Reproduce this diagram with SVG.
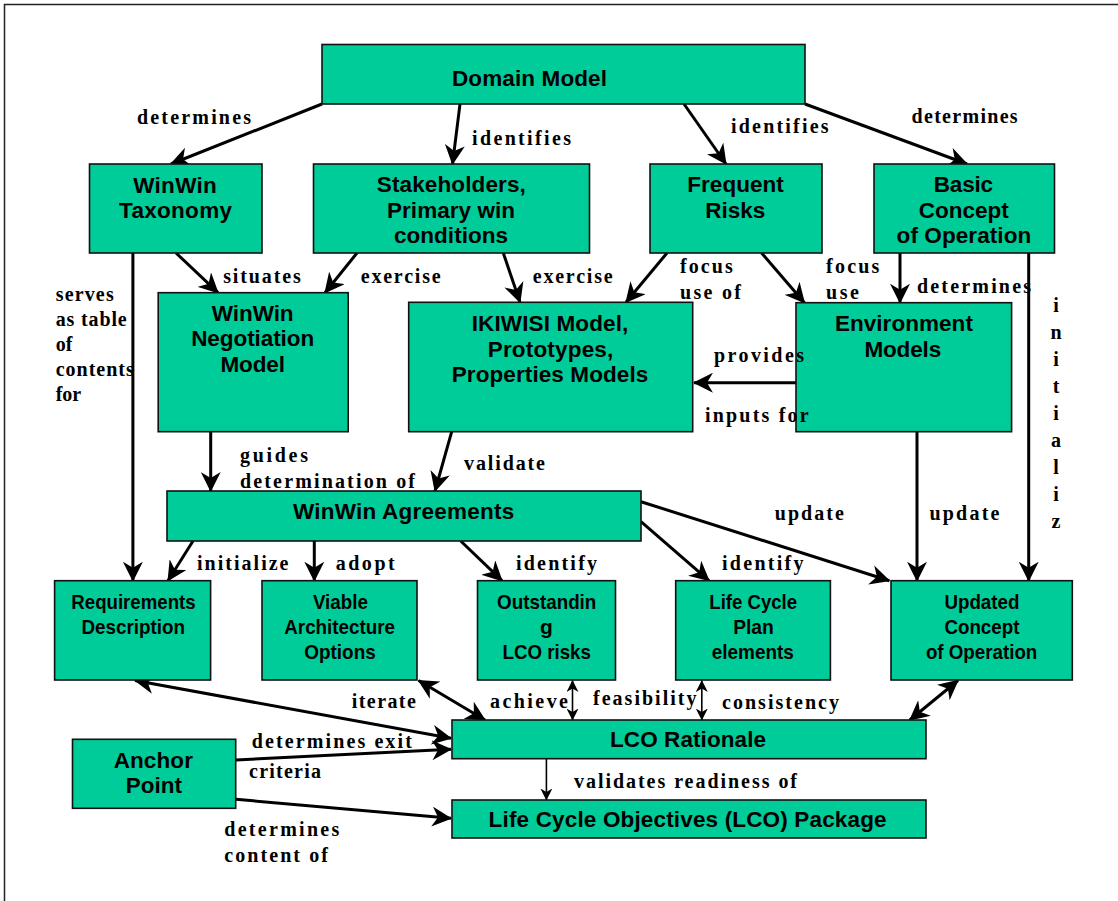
<svg xmlns="http://www.w3.org/2000/svg" width="1118" height="901" viewBox="0 0 1118 901">
<defs>
<style>
.box{fill:#00CC99;stroke:#111;stroke-width:1.6}
.nt{font-family:"Liberation Sans",Arial,sans-serif;font-weight:bold;font-size:22.5px;text-anchor:middle;fill:#000}
.nb{font-family:"Liberation Sans",Arial,sans-serif;font-weight:bold;font-size:21px;text-anchor:middle;fill:#000}
.lbl{font-family:"Liberation Serif","Times New Roman",serif;font-weight:bold;font-size:20px;fill:#000}
.vl{font-family:"Liberation Serif","Times New Roman",serif;font-weight:bold;font-size:20px;fill:#000;text-anchor:middle}
.c{fill:none;stroke:#000;stroke-width:3}
.ct{fill:none;stroke:#000;stroke-width:1.6}
</style>
<marker id="ah" viewBox="0 0 20 20" refX="19" refY="10" markerWidth="20" markerHeight="20" markerUnits="userSpaceOnUse" orient="auto-start-reverse"><path d="M0,0 L20,10 L0,20 L6,10 z" fill="#000"/></marker>
<marker id="as" viewBox="0 0 12 12" refX="11.5" refY="6" markerWidth="12" markerHeight="12" markerUnits="userSpaceOnUse" orient="auto-start-reverse"><path d="M0,0 L12,6 L0,12 L3.5,6 z" fill="#000"/></marker>
</defs>
<rect x="0" y="0" width="1118" height="901" fill="#fff"/>
<rect x="4.5" y="4.5" width="1200" height="1000" fill="none" stroke="#222" stroke-width="1.5"/>

<g id="connectors">
<line class="c" x1="322" y1="104" x2="171" y2="164" marker-end="url(#ah)"/>
<line class="c" x1="460" y1="104" x2="452.5" y2="164" marker-end="url(#ah)"/>
<line class="c" x1="684" y1="104" x2="726" y2="164" marker-end="url(#ah)"/>
<line class="c" x1="805" y1="104" x2="967" y2="164" marker-end="url(#ah)"/>
<line class="c" x1="176" y1="253" x2="218" y2="292.7" marker-end="url(#ah)"/>
<line class="c" x1="357" y1="253" x2="325" y2="292.7" marker-end="url(#ah)"/>
<line class="c" x1="503.3" y1="253" x2="520" y2="302.3" marker-end="url(#ah)"/>
<line class="c" x1="667" y1="253" x2="626" y2="302.3" marker-end="url(#ah)"/>
<line class="c" x1="761.6" y1="253" x2="804.4" y2="302.7" marker-end="url(#ah)"/>
<line class="c" x1="900" y1="253" x2="900" y2="302.7" marker-end="url(#ah)"/>
<line class="c" x1="1028.7" y1="253" x2="1028.7" y2="580.7" marker-end="url(#ah)"/>
<line class="c" x1="796" y1="382.7" x2="694" y2="382.7" marker-end="url(#ah)"/>
<line class="c" x1="210.7" y1="431.7" x2="210.7" y2="491" marker-end="url(#ah)"/>
<line class="c" x1="451.7" y1="431.7" x2="435" y2="491" marker-end="url(#ah)"/>
<line class="c" x1="132.9" y1="253" x2="132.9" y2="580.7" marker-end="url(#ah)"/>
<line class="c" x1="193" y1="541" x2="168" y2="580.7" marker-end="url(#ah)"/>
<line class="c" x1="314.3" y1="541" x2="314.3" y2="580.7" marker-end="url(#ah)"/>
<line class="c" x1="460.7" y1="541" x2="502" y2="580.7" marker-end="url(#ah)"/>
<line class="c" x1="641" y1="521.7" x2="709" y2="580.7" marker-end="url(#ah)"/>
<line class="c" x1="641" y1="501.7" x2="889.3" y2="580.7" marker-end="url(#ah)"/>
<line class="c" x1="917" y1="431.7" x2="917" y2="580.7" marker-end="url(#ah)"/>
<line class="c" x1="135" y1="680.5" x2="451" y2="738.3" marker-start="url(#ah)" marker-end="url(#ah)"/>
<line class="c" x1="418.6" y1="680.5" x2="485" y2="720" marker-start="url(#ah)" marker-end="url(#ah)"/>
<line class="ct" x1="572.5" y1="680.5" x2="572.5" y2="720" marker-start="url(#as)" marker-end="url(#as)"/>
<line class="ct" x1="701.8" y1="680.5" x2="701.8" y2="720" marker-start="url(#as)" marker-end="url(#as)"/>
<line class="c" x1="958" y1="680.5" x2="909.8" y2="720" marker-start="url(#ah)" marker-end="url(#ah)"/>
<line class="c" x1="236" y1="760" x2="451" y2="749.3" marker-end="url(#ah)"/>
<line class="c" x1="236" y1="799.3" x2="451" y2="818.3" marker-end="url(#ah)"/>
<line class="ct" x1="546.4" y1="758.7" x2="546.4" y2="800" marker-end="url(#as)"/>
</g>

<g id="domain-model"><rect class="box" x="322" y="44.5" width="483" height="59.5"/><text class="nt" x="529.5" y="86" textLength="155">Domain Model</text></g>
<g id="winwin-taxonomy"><rect class="box" x="89.5" y="164" width="172.5" height="89"/><text class="nt" x="175" y="192.7" textLength="83.6">WinWin</text><text class="nt" x="175.5" y="218" textLength="113">Taxonomy</text></g>
<g id="stakeholders"><rect class="box" x="313.5" y="164" width="276" height="89"/><text class="nt" x="451.3" y="192" textLength="149">Stakeholders,</text><text class="nt" x="451" y="218" textLength="128">Primary win</text><text class="nt" x="451" y="243" textLength="114">conditions</text></g>
<g id="frequent-risks"><rect class="box" x="650" y="164" width="172" height="89"/><text class="nt" x="735.5" y="192" textLength="96.4">Frequent</text><text class="nt" x="735.3" y="218" textLength="60">Risks</text></g>
<g id="basic-concept"><rect class="box" x="874" y="164" width="180.5" height="89"/><text class="nt" x="963.4" y="192" textLength="59.3">Basic</text><text class="nt" x="963.7" y="218" textLength="90">Concept</text><text class="nt" x="963.9" y="243" textLength="134.6">of Operation</text></g>
<g id="winwin-negotiation"><rect class="box" x="158.2" y="292.7" width="190" height="139"/><text class="nt" x="252.7" y="320.7" textLength="81.8">WinWin</text><text class="nt" x="252.7" y="346" textLength="123">Negotiation</text><text class="nt" x="252.7" y="371.7" textLength="64.6">Model</text></g>
<g id="ikiwisi"><rect class="box" x="408.7" y="302.3" width="284" height="129.4"/><text class="nt" x="550" y="330.7" textLength="156.6">IKIWISI Model,</text><text class="nt" x="550.5" y="356.7" textLength="125.6">Prototypes,</text><text class="nt" x="550" y="381.7" textLength="196.6">Properties Models</text></g>
<g id="environment-models"><rect class="box" x="796" y="302.7" width="215.6" height="129"/><text class="nt" x="903.9" y="331" textLength="138">Environment</text><text class="nt" x="902.8" y="356.7" textLength="76.8">Models</text></g>
<g id="winwin-agreements"><rect class="box" x="167" y="491" width="474" height="50"/><text class="nt" x="403.6" y="519.3" textLength="221.4">WinWin Agreements</text></g>
<g id="requirements"><rect class="box" x="54.6" y="580.7" width="156" height="99.3"/><text class="nb" x="133.5" y="609" textLength="124.3" lengthAdjust="spacingAndGlyphs">Requirements</text><text class="nb" x="133.2" y="634.3" textLength="103.6" lengthAdjust="spacingAndGlyphs">Description</text></g>
<g id="viable-architecture"><rect class="box" x="262" y="580.7" width="155" height="99.3"/><text class="nb" x="340.4" y="609" textLength="55" lengthAdjust="spacingAndGlyphs">Viable</text><text class="nb" x="339.6" y="634" textLength="110.7" lengthAdjust="spacingAndGlyphs">Architecture</text><text class="nb" x="340" y="659" textLength="71.4" lengthAdjust="spacingAndGlyphs">Options</text></g>
<g id="outstanding-risks"><rect class="box" x="477.5" y="580.7" width="138" height="99.3"/><text class="nb" x="546.7" y="609" textLength="99.3" lengthAdjust="spacingAndGlyphs">Outstandin</text><text class="nb" x="546.5" y="634">g</text><text class="nb" x="546.7" y="659" textLength="88.5" lengthAdjust="spacingAndGlyphs">LCO risks</text></g>
<g id="life-cycle-plan"><rect class="box" x="675.7" y="580.7" width="154.7" height="99.3"/><text class="nb" x="753.2" y="609" textLength="87.8" lengthAdjust="spacingAndGlyphs">Life Cycle</text><text class="nb" x="753.5" y="634" textLength="40.7" lengthAdjust="spacingAndGlyphs">Plan</text><text class="nb" x="752.8" y="659" textLength="82.1" lengthAdjust="spacingAndGlyphs">elements</text></g>
<g id="updated-concept"><rect class="box" x="891" y="580.7" width="181.3" height="99.3"/><text class="nb" x="981.9" y="609" textLength="75" lengthAdjust="spacingAndGlyphs">Updated</text><text class="nb" x="981.9" y="634" textLength="75" lengthAdjust="spacingAndGlyphs">Concept</text><text class="nb" x="981.6" y="659" textLength="111.4" lengthAdjust="spacingAndGlyphs">of Operation</text></g>
<g id="lco-rationale"><rect class="box" x="452" y="720" width="474" height="38.7"/><text class="nt" x="688" y="746.7" textLength="156">LCO Rationale</text></g>
<g id="lco-package"><rect class="box" x="452" y="800" width="474" height="38"/><text class="nt" x="687.6" y="827.3" textLength="398">Life Cycle Objectives (LCO) Package</text></g>
<g id="anchor-point"><rect class="box" x="72.5" y="739.3" width="163.2" height="69"/><text class="nt" x="153.3" y="768.3" textLength="79.3">Anchor</text><text class="nt" x="153.9" y="792.7" textLength="56.4">Point</text></g>

<g id="connector-labels">
<text class="lbl" x="137" y="124" textLength="114">determines</text>
<text class="lbl" x="472" y="144.7" textLength="99">identifies</text>
<text class="lbl" x="731" y="133.3" textLength="97.5">identifies</text>
<text class="lbl" x="911.6" y="122.7" textLength="106">determines</text>
<text class="lbl" x="223.2" y="282.7" textLength="77.5">situates</text>
<text class="lbl" x="360.7" y="282.7" textLength="80">exercise</text>
<text class="lbl" x="532.7" y="282.7" textLength="80">exercise</text>
<text class="lbl" x="680" y="272.7" textLength="52.7">focus</text>
<text class="lbl" x="680" y="299.3" textLength="61">use of</text>
<text class="lbl" x="826" y="273" textLength="53.4">focus</text>
<text class="lbl" x="826" y="299.3" textLength="33">use</text>
<text class="lbl" x="917" y="292.5" textLength="114">determines</text>
<text class="lbl" x="714" y="361.7" textLength="90">provides</text>
<text class="lbl" x="705" y="421.7" textLength="103.6">inputs for</text>
<text class="lbl" x="240" y="461.7" textLength="68">guides</text>
<text class="lbl" x="240" y="488.3" textLength="175">determination of</text>
<text class="lbl" x="464" y="470" textLength="81">validate</text>
<text class="lbl" x="55.7" y="300.7" textLength="58">serves</text>
<text class="lbl" x="55.7" y="326" textLength="71">as table</text>
<text class="lbl" x="55.7" y="350.7">of</text>
<text class="lbl" x="55.7" y="376" textLength="78">contents</text>
<text class="lbl" x="55.7" y="400.7">for</text>
<text class="vl" x="1056" y="312">i</text>
<text class="vl" x="1056" y="339">n</text>
<text class="vl" x="1056" y="366">i</text>
<text class="vl" x="1056" y="393">t</text>
<text class="vl" x="1056" y="420">i</text>
<text class="vl" x="1056" y="447">a</text>
<text class="vl" x="1056" y="474">l</text>
<text class="vl" x="1056" y="501">i</text>
<text class="vl" x="1056" y="528">z</text>
<text class="lbl" x="197" y="570" textLength="91.5">initialize</text>
<text class="lbl" x="335.7" y="570" textLength="59">adopt</text>
<text class="lbl" x="516" y="570" textLength="81">identify</text>
<text class="lbl" x="722" y="570" textLength="81.5">identify</text>
<text class="lbl" x="774.8" y="520" textLength="69">update</text>
<text class="lbl" x="929.4" y="520" textLength="70">update</text>
<text class="lbl" x="351.8" y="708.3" textLength="64">iterate</text>
<text class="lbl" x="490" y="708.3" textLength="78">achieve</text>
<text class="lbl" x="593" y="705" textLength="103.5">feasibility</text>
<text class="lbl" x="722" y="709.3" textLength="117">consistency</text>
<text class="lbl" x="251.8" y="748.3" textLength="160">determines exit</text>
<text class="lbl" x="249" y="778.3" textLength="72">criteria</text>
<text class="lbl" x="224.3" y="835.7" textLength="115">determines</text>
<text class="lbl" x="224.3" y="862.3" textLength="103.6">content of</text>
<text class="lbl" x="574" y="788.3" textLength="223">validates readiness of</text>
</g>
</svg>
